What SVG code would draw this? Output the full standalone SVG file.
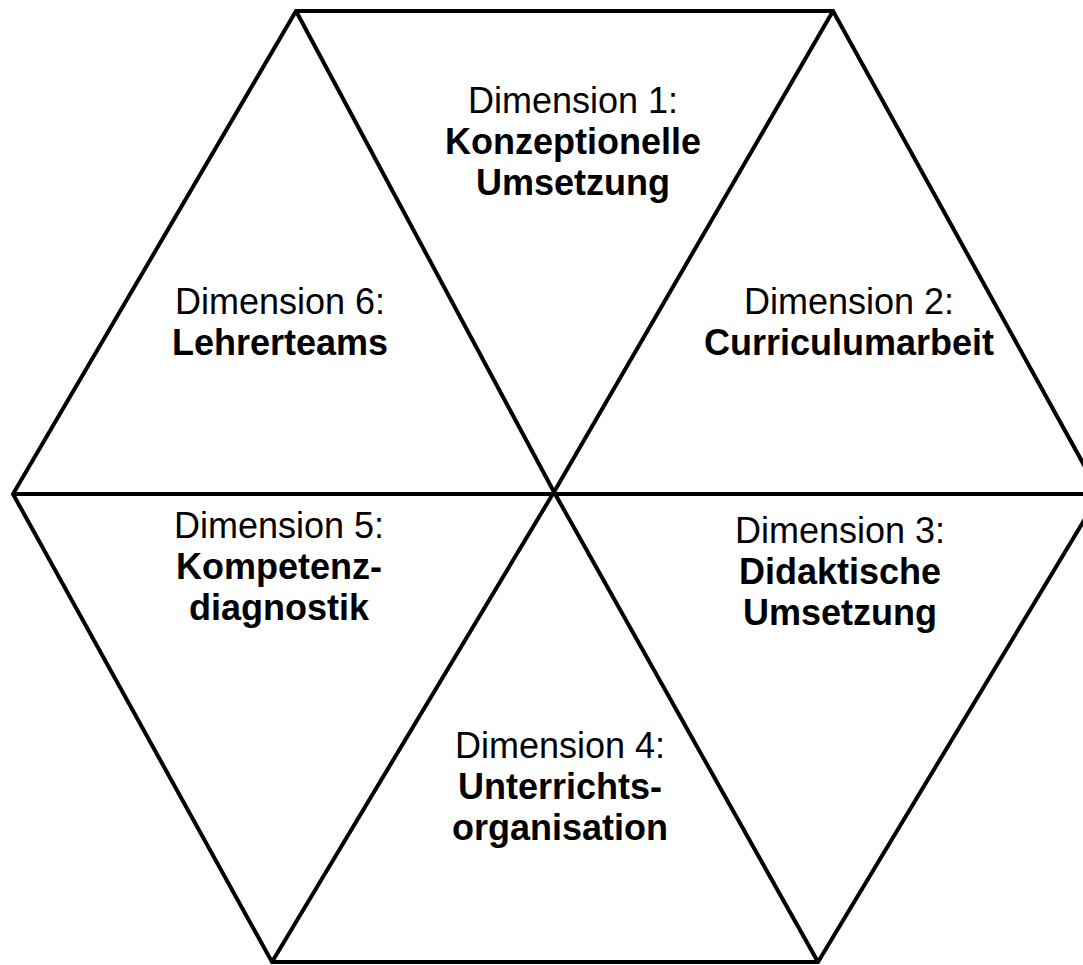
<svg xmlns="http://www.w3.org/2000/svg" width="1083" height="965" viewBox="0 0 1083 965">
  <style>
    .edge { fill: none; stroke: #000; stroke-width: 4; stroke-linejoin: miter; stroke-linecap: butt; }
    .lbl { font-family: "Liberation Sans", Arial, sans-serif; font-size: 36px; fill: #000; text-anchor: middle; }
    .b { font-weight: bold; }
  </style>
  <rect width="1083" height="965" fill="#fff"/>
  <g id="connectors">
    <!-- outer hexagon -->
    <polygon class="edge" points="296,11 833,11 1100,494 818,962 272,962 13,494"/>
    <!-- spokes through the centre -->
    <line class="edge" x1="296" y1="11" x2="554" y2="492"/>
    <line class="edge" x1="833" y1="11" x2="554" y2="492"/>
    <line class="edge" x1="554" y1="492" x2="818" y2="962"/>
    <line class="edge" x1="554" y1="492" x2="272" y2="962"/>
    <line class="edge" x1="13" y1="494" x2="1100" y2="494"/>
  </g>
  <g id="dim1">
    <text class="lbl" x="573" y="113">Dimension 1:</text>
    <text class="lbl b" x="573" y="154">Konzeptionelle</text>
    <text class="lbl b" x="573" y="195">Umsetzung</text>
  </g>
  <g id="dim2">
    <text class="lbl" x="849" y="314">Dimension 2:</text>
    <text class="lbl b" x="849" y="355">Curriculumarbeit</text>
  </g>
  <g id="dim3">
    <text class="lbl" x="840" y="543">Dimension 3:</text>
    <text class="lbl b" x="840" y="584">Didaktische</text>
    <text class="lbl b" x="840" y="625">Umsetzung</text>
  </g>
  <g id="dim4">
    <text class="lbl" x="560" y="758">Dimension 4:</text>
    <text class="lbl b" x="560" y="799">Unterrichts-</text>
    <text class="lbl b" x="560" y="840">organisation</text>
  </g>
  <g id="dim5">
    <text class="lbl" x="279" y="538">Dimension 5:</text>
    <text class="lbl b" x="279" y="579">Kompetenz-</text>
    <text class="lbl b" x="279" y="620">diagnostik</text>
  </g>
  <g id="dim6">
    <text class="lbl" x="280" y="314">Dimension 6:</text>
    <text class="lbl b" x="280" y="355">Lehrerteams</text>
  </g>
</svg>
